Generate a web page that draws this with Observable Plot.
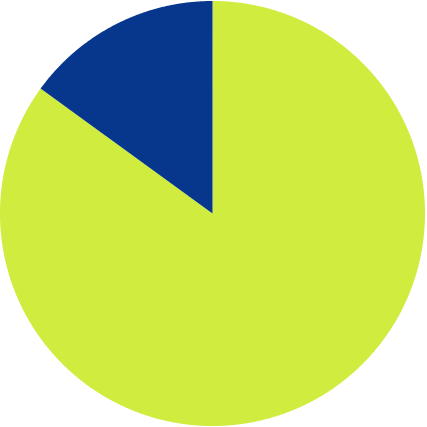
<!DOCTYPE html>
<html>
<head>
<meta charset="utf-8">
<script src="https://cdn.jsdelivr.net/npm/d3@7"></script>
<script src="https://cdn.jsdelivr.net/npm/@observablehq/plot@0.6"></script>
<style>
  html, body { margin: 0; padding: 0; background: #ffffff; }
  #chart svg { display: block; }
</style>
</head>
<body>
<div id="chart"></div>
<script>
// Data
const categories = ["A", "B"];
const values = [85, 15];
const colors = ["#cfec3f", "#07378d"];

// Compute slice angles with d3.pie (clockwise from 12 o'clock, in data order)
const pie = d3.pie().sort(null).value(d => d.value);
const arcs = pie(categories.map((c, i) => ({category: c, value: values[i]})));

// Build polygon outline points for each slice in unit coordinates
const points = [];
for (const a of arcs) {
  const n = Math.max(2, Math.ceil((a.endAngle - a.startAngle) / (Math.PI / 720)));
  points.push({category: a.data.category, x: 0, y: 0});
  for (let k = 0; k <= n; k++) {
    const t = a.startAngle + (a.endAngle - a.startAngle) * k / n;
    points.push({category: a.data.category, x: Math.sin(t), y: Math.cos(t)});
  }
  points.push({category: a.data.category, x: 0, y: 0});
}

const W = 427, H = 427, cx = 212, cy = 213, r = 212.5;

const chart = Plot.plot({
  width: W,
  height: H,
  margin: 0,
  x: {domain: [-1, 1], range: [cx - r, cx + r], axis: null},
  y: {domain: [-1, 1], range: [cy + r, cy - r], axis: null},
  marks: categories.map((c, i) =>
    Plot.line(points.filter(p => p.category === c), {
      x: "x", y: "y", fill: colors[i], stroke: "none", curve: "linear"
    })
  )
});
document.getElementById("chart").appendChild(chart);
</script>
</body>
</html>
